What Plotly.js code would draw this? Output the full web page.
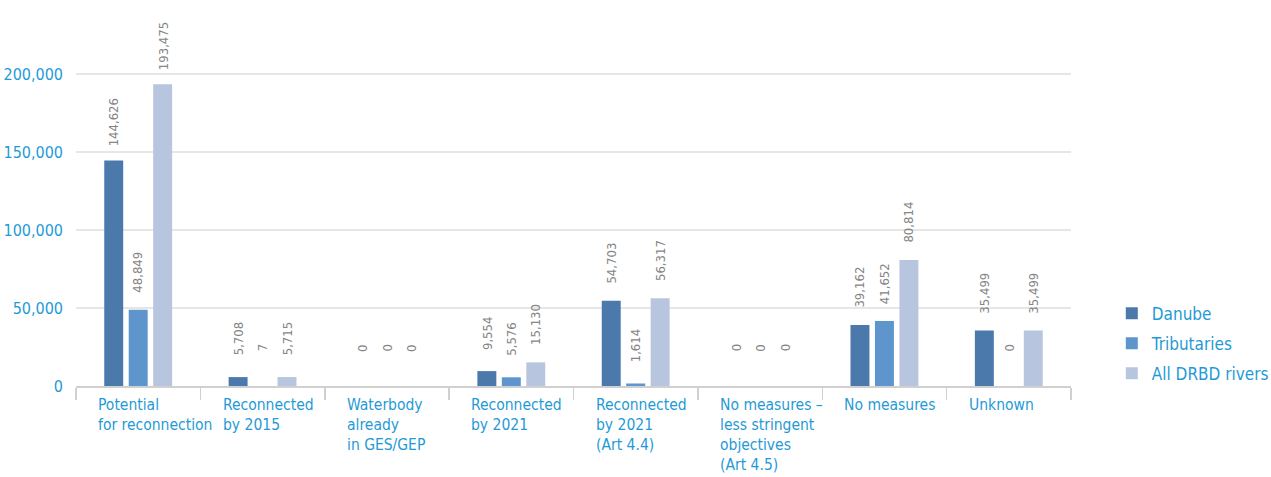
<!DOCTYPE html>
<html>
<head>
<meta charset="utf-8">
<script src="https://cdn.plot.ly/plotly-3.0.1.min.js"></script>
<style>
html,body{margin:0;padding:0;background:#fff;}
#chart{width:1271px;height:477px;}
#chart text{font-stretch:condensed;}
</style>
</head>
<body>
<div id="chart"></div>
<script>
var categories = [
  "Potential<br>for reconnection",
  "Reconnected<br>by 2015",
  "Waterbody<br>already<br>in GES/GEP",
  "Reconnected<br>by 2021",
  "Reconnected<br>by 2021<br>(Art 4.4)",
  "No measures –<br>less stringent<br>objectives<br>(Art 4.5)",
  "No measures",
  "Unknown"
];
var danube      = [144626, 5708, 0, 9554, 54703, 0, 39162, 35499];
var tributaries = [48849, 7, 0, 5576, 1614, 0, 41652, 0];
var allRivers   = [193475, 5715, 0, 15130, 56317, 0, 80814, 35499];
var seriesNames = ["Danube", "Tributaries", "All DRBD rivers"];
var seriesColors = ["#4b79ab", "#5d95cc", "#b8c5df"];
var seriesValues = [danube, tributaries, allRivers];

var FONT = "'DejaVu Sans', sans-serif";
var BLUE = "#1f9ad6";

var traces = seriesValues.map(function(vals, i){
  return {
    type: "bar",
    name: seriesNames[i],
    legendgroup: "g" + i,
    x: categories,
    y: vals,
    marker: {color: seriesColors[i]},
    hoverinfo: "x+y"
  };
});

var annotations = [];
seriesValues.forEach(function(vals, i){
  vals.forEach(function(v, j){
    annotations.push({
      xref: "x", yref: "y",
      x: categories[j], y: v,
      xshift: (i - 1) * 24.5, yshift: 38,
      xanchor: "center", yanchor: "middle",
      textangle: -90,
      text: v.toLocaleString("en-US"),
      showarrow: false,
      font: {family: FONT, size: 13, color: "#858585"}
    });
  });
});
categories.forEach(function(c, j){
  annotations.push({
    xref: "x", yref: "paper",
    x: c, y: 0,
    xshift: -42, yshift: -8,
    xanchor: "left", yanchor: "top",
    align: "left",
    text: c,
    showarrow: false,
    font: {family: FONT, size: 15.5, color: BLUE}
  });
});

var layout = {
  width: 1271, height: 477,
  margin: {l: 76, r: 200, t: 20, b: 91, autoexpand: false},
  paper_bgcolor: "#fff", plot_bgcolor: "#fff",
  barmode: "group",
  bargap: 0.41,
  bargroupgap: 0.225,
  showlegend: true,
  legend: {
    x: 1.041, xanchor: "left", y: 0.247, yanchor: "top",
    traceorder: "grouped", tracegroupgap: 5,
    font: {family: FONT, size: 17, color: BLUE}
  },
  xaxis: {
    type: "category",
    showticklabels: false,
    ticks: "outside", tickson: "boundaries", ticklen: 12, tickcolor: "#d0d0d0", tickwidth: 1.5,
    showline: true, linecolor: "#d0d0d0", linewidth: 1.5,
    showgrid: false, zeroline: false
  },
  yaxis: {
    range: [0, 234615],
    tickvals: [0, 50000, 100000, 150000, 200000],
    tickformat: ",",
    ticklabelstandoff: 12,
    showgrid: true, gridcolor: "#e6e6e6", gridwidth: 1.5,
    zeroline: false, showline: false,
    tickfont: {family: FONT, size: 16, color: BLUE}
  },
  annotations: annotations,
  font: {family: FONT}
};

Plotly.newPlot("chart", traces, layout, {displayModeBar: false, staticPlot: true});
</script>
</body>
</html>
